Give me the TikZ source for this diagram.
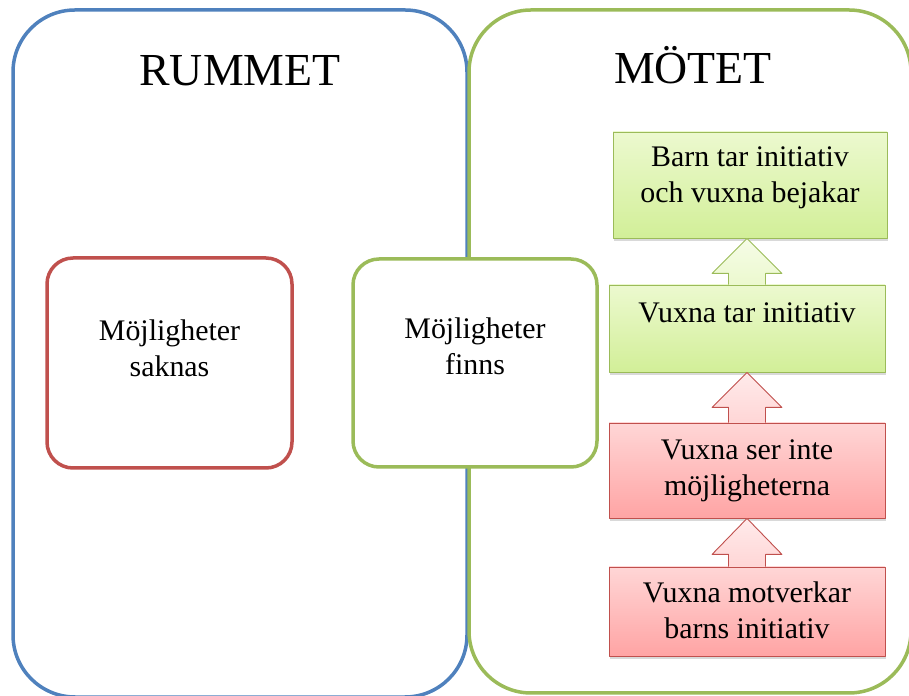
\documentclass[tikz,border=0pt]{standalone}
\usepackage{fontspec}
\setmainfont{Liberation Serif}
\usetikzlibrary{shadows}
\definecolor{boxblue}{RGB}{79,129,189}
\definecolor{boxgreen}{RGB}{155,187,89}
\definecolor{boxred}{RGB}{192,80,77}
\definecolor{greentop}{RGB}{236,249,207}
\definecolor{greenbot}{RGB}{210,239,152}
\definecolor{redtop}{RGB}{255,214,214}
\definecolor{redbot}{RGB}{255,164,164}
\begin{document}
\begin{tikzpicture}[line join=bevel,
  bigbox/.style={draw,line width=3.5bp,rounded corners=62bp,inner sep=0pt},
  roundbox/.style={draw,line width=3.5bp,rounded corners=26bp,fill=white,inner sep=0pt},
  stepgreen/.style={draw=boxgreen,line width=0.9bp,top color=greentop,bottom color=greenbot,inner sep=0pt,
    drop shadow={shadow xshift=1bp,shadow yshift=-3bp,opacity=0.3}},
  stepred/.style={draw=boxred,line width=0.9bp,top color=redtop,bottom color=redbot,inner sep=0pt,
    drop shadow={shadow xshift=1bp,shadow yshift=-3bp,opacity=0.3}},
  uparrowgreen/.style={draw=boxgreen,line width=0.9bp,top color=greentop!50!white,bottom color=greentop},
  uparrowred/.style={draw=boxred,line width=0.9bp,top color=redtop!50!white,bottom color=redtop},
  title/.style={font=\fontsize{46}{52}\selectfont},
  body/.style={font=\fontsize{30}{36}\selectfont,align=center},
]
%%
\useasboundingbox (0bp,0bp) rectangle (909bp,696bp);
\node (node_rummet_box) at (240bp,342.5bp) [bigbox,draw=boxblue,minimum width=454bp,minimum height=687bp] {};
\node (node_motet_box) at (690bp,344.5bp) [bigbox,draw=boxgreen,minimum width=442bp,minimum height=683bp] {};
\node (node_rummet) at (240bp,610bp) [title,anchor=base] {RUMMET};
\node (node_motet) at (693bp,612bp) [title,anchor=base] {MÖTET};
%
\node (node_saknas) at (169.5bp,333bp) [roundbox,draw=boxred,minimum width=245bp,minimum height=210bp] {};
\node (text_saknas) at ([yshift=15bp]node_saknas.center) [body] {Möjligheter\\saknas};
\node (node_finns) at (475bp,333bp) [roundbox,draw=boxgreen,minimum width=244bp,minimum height=208bp] {};
\node (text_finns) at ([yshift=17bp]node_finns.center) [body] {Möjligheter\\finns};
%
\node (node_bejakar) at (750bp,511bp) [stepgreen,minimum width=274bp,minimum height=106bp] {};
\node (node_tar) at (747bp,367.5bp) [stepgreen,minimum width=276bp,minimum height=87bp] {};
\node (node_ser) at (747bp,225.5bp) [stepred,minimum width=276bp,minimum height=95bp] {};
\node (node_motverkar) at (747bp,84.5bp) [stepred,minimum width=276bp,minimum height=89bp] {};
%
\draw [uparrowgreen] ([xshift=-18.5bp]node_tar.north) |- ([xshift=-35bp,yshift=-35bp]node_tar.north |- node_bejakar.south)
  -- (node_tar.north |- node_bejakar.south) -- ([xshift=35bp,yshift=-35bp]node_tar.north |- node_bejakar.south) -| ([xshift=18.5bp]node_tar.north);
\draw [uparrowred] ([xshift=-18.5bp]node_ser.north) |- ([xshift=-35bp,yshift=-35bp]node_tar.south)
  -- (node_tar.south) -- ([xshift=35bp,yshift=-35bp]node_tar.south) -| ([xshift=18.5bp]node_ser.north);
\draw [uparrowred] ([xshift=-18.5bp]node_motverkar.north) |- ([xshift=-35bp,yshift=-36bp]node_ser.south)
  -- (node_ser.south) -- ([xshift=35bp,yshift=-36bp]node_ser.south) -| ([xshift=18.5bp]node_motverkar.north);
%
\node (text_bejakar) at ([yshift=7bp]node_bejakar.center) [body] {Barn tar initiativ\\och vuxna bejakar};
\node (text_tar) at ([yshift=16bp]node_tar.center) [body] {Vuxna tar initiativ};
\node (text_ser) at (node_ser.center) [body] {Vuxna ser inte\\möjligheterna};
\node (text_motverkar) at ([yshift=1bp]node_motverkar.center) [body] {Vuxna motverkar\\barns initiativ};
%
\end{tikzpicture}
\end{document}
